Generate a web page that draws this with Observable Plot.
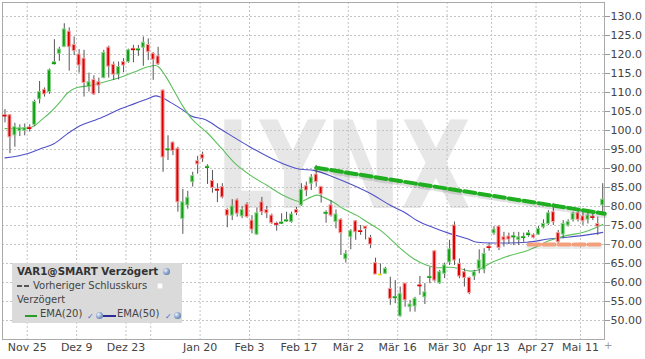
<!DOCTYPE html>
<html>
<head>
<meta charset="utf-8">
<script src="https://cdn.jsdelivr.net/npm/d3@7"></script>
<script src="https://cdn.jsdelivr.net/npm/@observablehq/plot@0.6"></script>
<style>
  html, body { margin: 0; padding: 0; background: white; }
  #wrap { position: relative; width: 645px; height: 359px; overflow: hidden; font-family: "DejaVu Sans", sans-serif; }
  #legend { position: absolute; left: 12px; top: 263px; width: 170px; height: 60px; background: #dadada; color: #444; font-size: 10px; }
  #legend .ln { position: absolute; white-space: nowrap; line-height: 14px; height: 14px; }
  .globe { position: absolute; width: 7px; height: 7px; border-radius: 50%; background: radial-gradient(circle at 35% 35%, #eef3fa 0%, #8fa8cf 45%, #3f5f95 100%); }
  .chk { position: absolute; color: #3a6fd0; font-size: 8px; line-height: 8px; }
  .seg { position: absolute; height: 2px; }
</style>
</head>
<body>
<div id="wrap">
  <div id="chart"></div>
  <div id="legend">
    <div class="ln" style="left:5px;top:1px;font-weight:bold;color:#333;font-size:10.3px;">VAR1@SMART Verzögert</div>
    <span class="globe" style="left:151px;top:5px;"></span>
    <span class="seg" style="left:5px;top:22px;width:5px;background:#555;"></span>
    <span class="seg" style="left:12px;top:22px;width:5px;background:#555;"></span>
    <div class="ln" style="left:21px;top:15.6px;">Vorheriger Schlusskurs</div>
    <span style="position:absolute;left:145px;top:20px;width:6px;height:6px;background:#fff;border:1px solid #e6e6e6;box-sizing:border-box;"></span>
    <div class="ln" style="left:5px;top:29.6px;">Verzögert</div>
    <span class="seg" style="left:13px;top:52px;width:12px;background:#2a9a2a;"></span>
    <div class="ln" style="left:28px;top:44.1px;">EMA(20)</div>
    <span class="chk" style="left:75px;top:50px;">✓</span>
    <span class="globe" style="left:84px;top:49px;"></span>
    <span class="seg" style="left:91px;top:52px;width:13px;background:#2c2c99;"></span>
    <div class="ln" style="left:105px;top:44.1px;">EMA(50)</div>
    <span class="chk" style="left:153px;top:50px;">✓</span>
    <span class="globe" style="left:162px;top:49px;"></span>
  </div>
  <div style="position:absolute;left:604px;top:340px;font-size:10px;color:#999;">+</div>
</div>
<script>
// ---- Data (candle index 0 = first visible trading day) ----
const open  = [104.0,104.0,98.7,99.8,99.9,100.8,101.5,108.2,110.7,110.1,
               117.4,120.2,122.0,126.0,122.5,120.0,118.9,111.4,113.3,112.7,
               113.8,121.8,117.3,114.7,118.0,118.0,121.5,121.2,121.8,122.5,
               120.2,119.5,110.5,94.9,96.8,95.2,76.7,80.3,86.4,91.9,
               93.6,90.2,86.7,84.5,85.1,79.1,77.6,81.6,77.4,80.5,
               76.3,72.6,81.1,79.1,77.6,75.5,75.6,76.2,75.9,79.1,
               80.3,85.3,86.0,88.4,85.1,78.2,80.3,75.9,76.5,66.1,
               71.9,76.1,73.6,74.7,71.7,65.1,62.1,62.3,58.3,56.0,
               51.1,59.7,53.5,53.7,59.3,56.1,61.3,68.2,59.8,62.3,
               65.3,75.0,64.9,62.7,61.2,61.6,63.6,63.4,69.4,72.9,
               74.7,71.9,72.1,72.0,71.2,71.8,72.4,72.4,72.6,74.5,
               75.4,78.5,73.0,72.6,75.0,76.5,78.2,77.4,76.5,77.3,
               75.4,80.3];
const high  = [105.5,104.2,101.9,101.5,101.7,101.5,108.0,112.9,111.2,116.2,
               123.9,121.9,128.1,127.0,124.6,121.3,121.1,115.1,114.4,113.8,
               121.1,122.2,118.0,118.0,118.9,121.4,122.4,122.4,124.6,124.1,
               120.5,121.9,110.7,98.6,97.0,95.6,84.5,84.0,89.0,93.2,
               94.3,91.0,89.5,86.0,86.0,79.4,81.8,82.0,80.0,81.0,
               77.6,79.6,82.4,80.0,78.0,75.9,78.1,78.5,78.5,79.8,
               86.0,86.4,88.4,90.8,85.3,78.9,81.6,79.1,76.8,68.4,
               73.9,76.3,75.0,74.7,72.4,66.4,64.9,64.0,61.4,60.5,
               58.8,59.7,55.3,56.1,61.6,59.7,64.0,68.4,63.2,65.1,
               71.1,75.9,66.2,63.6,61.4,63.2,68.6,68.9,70.3,74.7,
               74.9,73.2,73.0,73.2,73.2,73.0,73.7,72.8,74.7,76.5,
               78.9,80.7,73.7,76.3,76.5,78.5,78.9,78.5,78.5,78.1,
               77.2,86.0];
const low   = [102.0,93.9,95.6,98.4,98.6,99.6,101.0,107.0,108.8,109.5,
               117.2,118.2,121.8,115.6,119.7,115.1,108.8,110.1,109.2,109.7,
               113.6,113.8,113.2,113.3,115.2,117.7,117.8,119.5,116.9,118.4,
               113.2,117.1,89.0,92.1,93.4,78.5,72.7,79.3,85.1,88.5,
               91.6,85.8,83.5,81.0,82.0,74.4,76.3,77.2,76.8,76.9,
               72.8,72.4,77.6,76.8,75.3,73.5,75.3,75.9,75.6,77.6,
               80.0,82.6,84.2,85.1,80.9,75.6,77.2,74.1,67.1,65.1,
               68.6,71.1,72.4,71.2,68.9,62.1,61.8,62.1,54.0,54.4,
               50.9,53.5,52.2,52.2,56.6,54.2,59.7,60.1,59.5,61.0,
               64.5,64.5,61.0,58.8,56.8,60.5,62.3,62.3,68.2,72.4,
               68.4,69.3,70.0,69.7,69.7,70.6,71.9,71.5,72.4,74.1,
               75.0,75.0,70.2,71.5,74.6,75.9,75.9,75.0,75.4,76.3,
               72.4,78.1];
const close = [103.8,98.2,100.9,100.6,100.6,100.4,107.5,110.1,109.5,115.8,
               118.0,121.3,126.6,121.9,120.9,117.1,112.5,112.7,109.5,111.8,
               120.4,116.8,114.7,116.7,117.1,121.1,121.2,121.4,123.1,120.6,
               118.6,117.4,92.9,95.1,94.6,81.1,81.1,82.3,88.0,91.1,
               92.6,90.5,84.9,84.3,82.4,77.6,80.0,78.1,79.1,77.2,
               73.9,78.2,78.5,78.2,75.6,75.3,75.8,76.4,77.9,78.3,
               84.4,84.2,87.6,86.4,83.2,78.4,77.6,77.9,73.0,67.5,
               73.5,73.2,73.4,74.1,70.0,62.1,62.1,63.6,55.7,56.2,
               57.0,55.3,54.2,55.7,59.1,57.4,61.5,60.5,62.7,64.5,
               68.7,65.8,61.6,61.2,57.2,62.7,65.8,67.5,69.2,73.9,
               69.1,71.1,71.3,72.2,71.9,72.0,73.0,71.8,74.1,75.4,
               78.2,75.9,70.6,75.4,75.9,78.1,76.5,76.1,77.6,77.1,
               74.7,81.8];

// EMA(20) and EMA(50) (candle index, value)
const ema20Idx = [0,5,6,7.2,9.2,11.2,12.6,14.6,17.3,19.3,23.4,26,28.8,30.5,31.1,32.5,34.2,35.9,37.9,39.6,
                  40.6,43.9,46.3,49.7,53.1,56.4,59.8,61.8,63.2,64.5,66.5,68.5,71.3,73.3,76,78,80.1,82.8,85.5,87.5,
                  90.2,92.2,94.2,95.6,96.9,98.3,100.3,101.3,105.8,110.4,113.8,117.1,119.9,121];
const ema20Val = [100.5,100.7,101.3,102.6,104.8,107.6,109.8,111.3,111.8,112.5,114.0,115.3,116.7,117.1,116.7,114.3,110.5,106.6,102.9,100.9,
                  99.8,95.2,91.7,88.2,85.5,82.9,81.3,82.4,83.0,82.4,81.1,79.4,77.6,75.9,73.7,71.5,68.9,66.2,64.5,63.9,
                  64.0,63.6,63.0,63.2,64.1,65.1,66.2,66.7,68.4,71.1,72.4,73.2,74.6,75.3];
const ema50Idx = [0,4.5,7.2,9.9,12.6,15.3,18,20.3,23.4,26.1,28.8,30.5,31.5,33.5,35.9,37.6,40.6,43.6,49.7,56.4,
                  59.8,62.5,66.6,70.6,74.7,78,81.1,83.4,86.8,90.2,93.6,95.6,98.3,101.3,105.7,110.4,113.8,117.2,120.2,121];
const ema50Val = [92.8,93.9,95.2,96.5,99.1,101.3,102.6,103.8,105.7,107.0,108.3,109.1,108.8,107.4,105.5,103.9,102.8,100.4,95.6,91.2,
                  89.8,89.5,87.7,85.5,82.9,80.3,78.3,76.3,74.4,72.8,71.5,70.6,70.4,70.4,70.6,71.5,71.9,72.4,73.0,73.2];

// drawn trend lines (candle index, value)
const resistIdx = [63, 121.4];
const resistVal = [90.2, 78.1];
const supportIdx = [106, 121];
const supportVal = [70.0, 70.0];

// axis ticks
const yTicks = [50,55,60,65,70,75,80,85,90,95,100,105,110,115,120,125,130];
const xTickIdx = [5,15,25,30,40,50,60,70,80,90,99,108,117];
const xTickLabels = ["Nov 25","Dez 9","Dez 23","","Jan 20","Feb 3","Feb 17","Mär 2","Mär 16","Mär 30","Apr 13","Apr 27","Mai 11"];
const watermark = ["LYNX"];

// ---- Build ----
const candles = open.map((o, i) => ({i, o, h: high[i], l: low[i], c: close[i]}));
const bodyCol = d => d.c > d.o ? "#12a012" : d.c < d.o ? "#dd0000" : "#f0dc00";
const haloCol = d => d.c > d.o ? "#8ad28a" : d.c < d.o ? "#f2a0a0" : "#f5ea80";
const e20 = ema20Idx.map((x, k) => ({x, v: ema20Val[k]}));
const e50 = ema50Idx.map((x, k) => ({x, v: ema50Val[k]}));
const resist = resistIdx.map((x, k) => ({x, v: resistVal[k]}));
const support = supportIdx.map((x, k) => ({x, v: supportVal[k]}));
const xTicks = xTickIdx.map((x, k) => ({x: x - 0.5, label: xTickLabels[k]}));

const chart = Plot.plot({
  width: 645, height: 359,
  marginLeft: 2, marginRight: 41, marginTop: 2, marginBottom: 20,
  x: {domain: [-0.506, 121.36], axis: null},
  y: {domain: [45.0, 133.68], axis: null},
  color: {type: "identity"},
  style: {fontFamily: "DejaVu Sans", fontSize: "11px", color: "#444", background: "white"},
  marks: [
    Plot.text(watermark, {text: d => d, frameAnchor: "middle", dx: 40, dy: -2, fontSize: 122, fontWeight: "bold", fill: "#e7e7e7"}),
    Plot.ruleY(yTicks, {stroke: "#c4c4c4", strokeDasharray: "2,2"}),
    Plot.ruleX(xTicks, {x: "x", stroke: "#c4c4c4", strokeDasharray: "2,2"}),
    Plot.frame({stroke: "#aaa"}),
    Plot.axisY(yTicks, {anchor: "right", tickSize: 5, tickPadding: 1, stroke: "#999", fill: "#444", fontSize: 11,
      tickFormat: v => v >= 100 ? v.toFixed(1) : v.toFixed(2)}),
    Plot.text(xTicks, {x: "x", text: "label", frameAnchor: "bottom", dy: 11, fontSize: 11, fill: "#444"}),
    Plot.line(e50, {x: "x", y: "v", stroke: "#5050c8", strokeWidth: 1.1, curve: "monotone-x"}),
    Plot.line(e20, {x: "x", y: "v", stroke: "#5cc05c", strokeWidth: 1.1, curve: "monotone-x"}),
    Plot.ruleX(candles, {x: "i", y1: "l", y2: "h", stroke: "#555", strokeWidth: 1}),
    Plot.rect(candles, {x1: d => d.i - 0.3, x2: d => d.i + 0.3, y1: "o", y2: "c", fill: bodyCol, stroke: haloCol, strokeWidth: 1}),
    Plot.ruleY(candles.filter(d => Math.abs(d.o - d.c) < 0.6), {x1: d => d.i - 0.42, x2: d => d.i + 0.42, y: d => (d.o + d.c) / 2, stroke: bodyCol, strokeWidth: 1.6}),
    Plot.line(resist, {x: "x", y: "v", stroke: "#000", strokeOpacity: 0.12, strokeWidth: 5, dy: 2, strokeDasharray: "11,4"}),
    Plot.line(resist, {x: "x", y: "v", stroke: "#1fae1f", strokeWidth: 4, strokeDasharray: "11,4"}),
    Plot.line(support, {x: "x", y: "v", stroke: "#000", strokeOpacity: 0.08, strokeWidth: 5, dy: 2, strokeDasharray: "11,4"}),
    Plot.line(support, {x: "x", y: "v", stroke: "#f4a07c", strokeWidth: 4, strokeDasharray: "11,4"})
  ]
});
document.getElementById("chart").appendChild(chart);
chart.querySelectorAll("text").forEach(t => {
  if (t.textContent === "LYNX") {
    t.setAttribute("textLength", "255");
    t.setAttribute("lengthAdjust", "spacingAndGlyphs");
  }
});
</script>
</body>
</html>
